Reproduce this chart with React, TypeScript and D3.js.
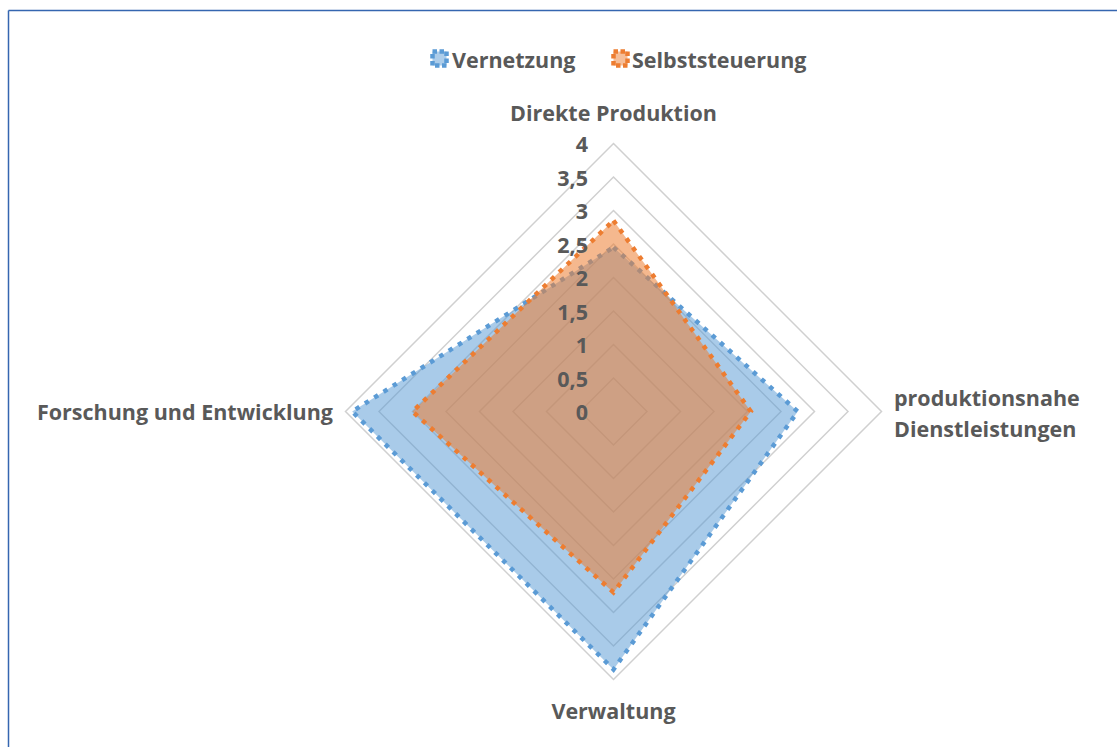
import React from "react";
import * as d3 from "d3";

const categories = ["Direkte Produktion", "produktionsnahe Dienstleistungen", "Verwaltung", "Forschung und Entwicklung"];
const seriesNames = ["Vernetzung", "Selbststeuerung"];
const vernetzung = [2.45, 2.75, 3.85, 3.9];
const selbststeuerung = [2.85, 2.05, 2.7, 3.0];
const ticks = [0, 0.5, 1, 1.5, 2, 2.5, 3, 3.5, 4];
const tickLabels = ["0", "0,5", "1", "1,5", "2", "2,5", "3", "3,5", "4"];

const W = 1117, H = 747;
const cx = 613.5, cy = 411.5;
const FONT = "'Open Sans', sans-serif";
const FS = 21.5;
const TXT = "#595959";
const colors = ["#5B9BD5", "#ED7D31"];

export default function App() {
  const r = d3.scaleLinear().domain([0, 4]).range([0, 268]);
  const angle = (i: number) => (i * 2 * Math.PI) / categories.length;
  const pt = (i: number, v: number): [number, number] => [
    cx + r(v) * Math.sin(angle(i)),
    cy - r(v) * Math.cos(angle(i)),
  ];
  const line = d3.line<[number, number]>().curve(d3.curveLinearClosed);
  const series = [vernetzung, selbststeuerung];

  return (
    <svg width={W} height={H} style={{ position: "absolute", left: 0, top: 0 }} fontFamily={FONT}>
      <rect x={0} y={0} width={W} height={H} fill="#fff" />
      <line x1={8.5} y1={10.5} x2={W} y2={10.5} stroke="#3566B0" strokeWidth={1.5} />
      <line x1={8.5} y1={10.5} x2={8.5} y2={H} stroke="#3566B0" strokeWidth={1.5} />
      {/* grid */}
      {ticks.filter((t) => t > 0).map((t) => (
        <path key={t} d={line(categories.map((_, i) => pt(i, t))) || ""} fill="none" stroke="#D0D0D0" strokeWidth={1.5} />
      ))}
      {/* series */}
      {series.map((s, k) => {
        const d = line(s.map((v, i) => pt(i, v))) || "";
        return (
          <g key={k}>
            <path d={d} fill={colors[k]} fillOpacity={k === 0 ? 0.52 : 0.55} stroke="none" />
            <path d={d} fill="none" stroke={colors[k]} strokeWidth={4.5} strokeDasharray="4.5 6.5" />
          </g>
        );
      })}
      {/* tick labels */}
      {ticks.map((t, i) => (
        <text key={t} x={588} y={cy - r(t)} textAnchor="end" dominantBaseline="central" fontSize={FS} fontWeight="bold" fill={TXT}>
          {tickLabels[i]}
        </text>
      ))}
      {/* category labels */}
      <text x={cx} y={112} textAnchor="middle" dominantBaseline="central" fontSize={FS} fontWeight="bold" fill={TXT}>{categories[0]}</text>
      <text x={894} y={397} textAnchor="start" dominantBaseline="central" fontSize={FS} fontWeight="bold" fill={TXT}>
        <tspan x={894}>produktionsnahe</tspan>
        <tspan x={894} dy={31}>Dienstleistungen</tspan>
      </text>
      <text x={cx} y={710} textAnchor="middle" dominantBaseline="central" fontSize={FS} fontWeight="bold" fill={TXT}>{categories[2]}</text>
      <text x={333} y={411} textAnchor="end" dominantBaseline="central" fontSize={FS} fontWeight="bold" fill={TXT}>{categories[3]}</text>
      {/* legend */}
      {[{ x: 431, tx: 452 }, { x: 612, tx: 632 }].map((p, k) => (
        <g key={k}>
          <rect x={p.x + 1.5} y={51.5} width={14} height={14} fill={colors[k]} fillOpacity={0.5} stroke={colors[k]} strokeWidth={4.5} strokeDasharray="4.5 2.5" />
          <text x={p.tx} y={59} dominantBaseline="central" fontSize={FS} fontWeight="bold" fill={TXT}>{seriesNames[k]}</text>
        </g>
      ))}
    </svg>
  );
}
